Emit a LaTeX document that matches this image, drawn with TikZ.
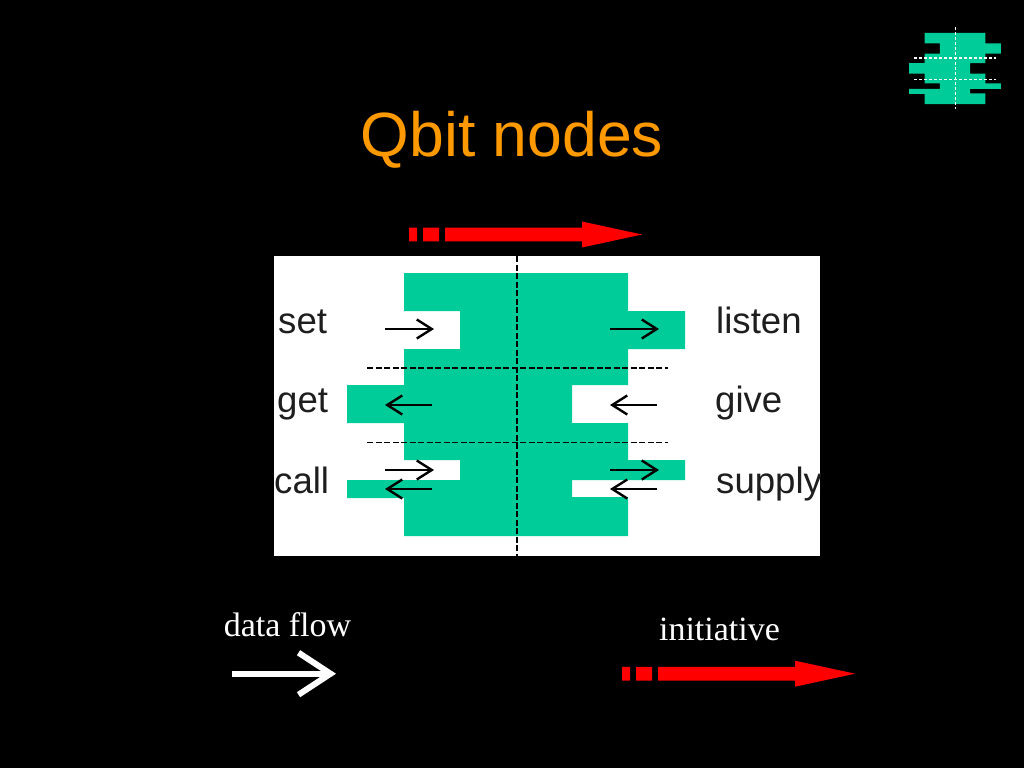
\documentclass[tikz,border=0pt]{standalone}
\usepackage{xcolor}
\usepackage{fontspec}
\setmainfont{Liberation Serif}
\setsansfont{Liberation Sans}
\usepackage{tikz}
\usetikzlibrary{arrows.meta, positioning}
\definecolor{qbitGreen}{RGB}{0, 204, 153}
\definecolor{titleOrange}{RGB}{255, 153, 0}
\definecolor{labelGray}{RGB}{30, 30, 30}

\newcommand{\qbitOutline}{(404,273) -- (628,273) -- (628,311) -- (685,311) -- (685,349) -- (628,349)
  -- (628,385) -- (572,385) -- (572,423) -- (628,423) -- (628,460) -- (685,460) -- (685,480)
  -- (572,480) -- (572,497) -- (628,497) -- (628,536) -- (404,536) -- (404,498) -- (347,498)
  -- (347,480) -- (460,480) -- (460,460) -- (404,460) -- (404,423) -- (347,423) -- (347,385)
  -- (404,385) -- (404,349) -- (460,349) -- (460,311) -- (404,311) -- cycle}
\newcommand{\initiativeArrow}{(0,-6.8) rectangle (8,6.8) (14,-6.8) rectangle (30,6.8)
  (36,-6.8) -- (173,-6.8) -- (173,-13) -- (233,0) -- (173,13) -- (173,6.8) -- (36,6.8) -- cycle}

\begin{document}
\begin{tikzpicture}[
  x=1pt, y=-1pt,
  portLabel/.style={
    anchor=base west, inner sep=0pt,
    font=\fontsize{36.6}{36.6}\selectfont\sffamily, text=labelGray
  },
  legendLabel/.style={
    anchor=base, inner sep=0pt,
    font=\fontsize{34}{34}\selectfont, text=white
  },
  flow/.style={
    -{Straight Barb[length=15pt, width=19pt]}, line width=2.4pt, black
  },
  divider/.style={black, line width=1.2pt, dash pattern=on 6pt off 2.5pt},
  iconDivider/.style={white, line width=1pt, dash pattern=on 3pt off 2pt}
]
\fill[black] (0,0) rectangle (1024,768);
\useasboundingbox (0,0) rectangle (1024,768);

% title and small logo
\node[anchor=base, inner sep=0pt, font=\fontsize{62.5}{62.5}\selectfont\sffamily, text=titleOrange]
  (title) at (512,156) {Qbit nodes};

\begin{scope}[shift={(909,33)}, xscale=.272, yscale=.27, shift={(-347,-273)}]
  \fill[qbitGreen] \qbitOutline;
\end{scope}
\coordinate (iconTop) at (955,27);
\coordinate (iconBottom) at (955,109);
\coordinate (iconLineAl) at (914,58);
\coordinate (iconLineAr) at (996,58);
\coordinate (iconLineBl) at (914,79);
\coordinate (iconLineBr) at (996,79);
\draw[iconDivider] (iconTop) -- (iconBottom);
\draw[iconDivider] (iconLineAl) -- (iconLineAr);
\draw[iconDivider] (iconLineBl) -- (iconLineBr);

% initiative arrow over the panel
\fill[red, shift={(409,234.5)}] \initiativeArrow;

% panel
\fill[white] (274,256) rectangle (820,556);
\fill[qbitGreen] \qbitOutline;

\coordinate (panelTop) at (517,256);
\coordinate (panelBottom) at (517,556);
\coordinate (lineAl) at (367,368);
\coordinate (lineAr) at (668,368);
\coordinate (lineBl) at (367,442.5);
\coordinate (lineBr) at (668,442.5);
\draw[divider] (panelTop) -- (panelBottom);
\draw[divider] (lineAl) -- (lineAr);
\draw[divider] (lineBl) -- (lineBr);

\node[portLabel] (set)    at (278,333) {set};
\node[portLabel] (get)    at (277,412) {get};
\node[portLabel] (call)   at (274,493) {call};
\node[portLabel] (listen) at (716,333) {listen};
\node[portLabel] (give)   at (715,412) {give};
\begin{scope}
  \clip (274,256) rectangle (820,556);
  \node[portLabel] (supply) at (716,493) {supply};
\end{scope}

\coordinate (setA) at (385,329);    \coordinate (setB) at (434,329);
\coordinate (getA) at (432,405);    \coordinate (getB) at (385,405);
\coordinate (callA) at (385,470);   \coordinate (callB) at (434,470);
\coordinate (callC) at (432,489);   \coordinate (callD) at (385,489);
\coordinate (listenA) at (610,329); \coordinate (listenB) at (659,329);
\coordinate (giveA) at (657,405);   \coordinate (giveB) at (610,405);
\coordinate (supplyA) at (610,470); \coordinate (supplyB) at (659,470);
\coordinate (supplyC) at (657,489); \coordinate (supplyD) at (610,489);

\draw[flow] (setA) -- (setB);
\draw[flow] (getA) -- (getB);
\draw[flow] (callA) -- (callB);
\draw[flow] (callC) -- (callD);
\draw[flow] (listenA) -- (listenB);
\draw[flow] (giveA) -- (giveB);
\draw[flow] (supplyA) -- (supplyB);
\draw[flow] (supplyC) -- (supplyD);

% legend
\node[legendLabel] (dataFlow) at (287.5,636) {data flow};
\node[legendLabel] (initiative) at (719.5,640) {initiative};

\coordinate (legendA) at (232,673.7);
\coordinate (legendB) at (336,673.7);
\draw[-{Straight Barb[length=32pt, width=42pt]}, line width=6pt, white] (legendA) -- (legendB);

\fill[red, shift={(622,673.7)}] \initiativeArrow;
\end{tikzpicture}
\end{document}
